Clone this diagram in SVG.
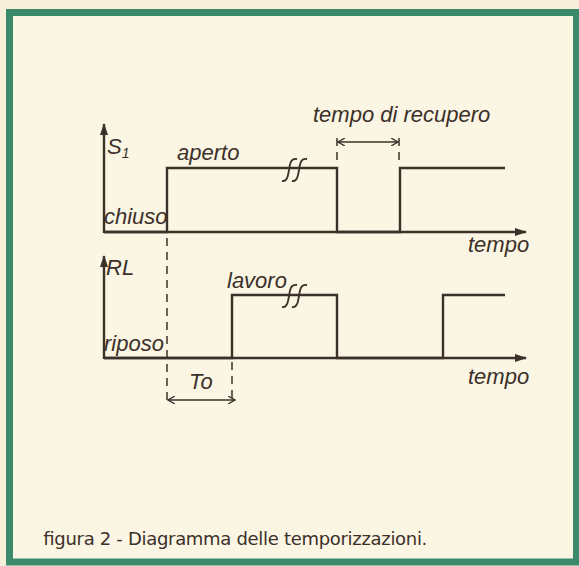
<svg xmlns="http://www.w3.org/2000/svg" width="579" height="566" viewBox="0 0 579 566">
<style>
.ln{fill:none;stroke:#3b302a;stroke-width:2.4;stroke-linejoin:miter}
.thin{fill:none;stroke:#3b302a;stroke-width:1.4}
.brk{fill:none;stroke:#3b302a;stroke-width:1.8}
.dash{fill:none;stroke:#3b302a;stroke-width:1.5;stroke-dasharray:8,6}
.lbl{font-family:"Liberation Sans",Arial,sans-serif;font-style:italic;font-size:22px;fill:#3b302a}
.cap{font-family:"DejaVu Sans","Liberation Sans",sans-serif;font-size:18px;fill:#3b302a}
</style>
<defs>
<marker id="ah" markerWidth="12" markerHeight="10" refX="11" refY="5" orient="auto" markerUnits="userSpaceOnUse">
<path d="M0,1 L12,5 L0,9 Z" fill="#3b302a"/>
</marker>
<marker id="sa" markerWidth="8" markerHeight="8" refX="7" refY="4" orient="auto-start-reverse" markerUnits="userSpaceOnUse">
<path d="M0,0 L7,4 L0,8" fill="none" stroke="#3b302a" stroke-width="1.3"/>
</marker>
</defs>
<rect x="0" y="0" width="579" height="566" fill="#f7efd9"/>
<rect x="9.5" y="12.5" width="567" height="549.5" fill="#fbf5e3" stroke="#3c8a6c" stroke-width="7"/>

<g id="axes">
<path class="ln" d="M104,233 V124" marker-end="url(#ah)"/>
<path class="ln" d="M104,232 H526" marker-end="url(#ah)"/>
<path class="ln" d="M104,359 V256" marker-end="url(#ah)"/>
<path class="ln" d="M104,358 H526" marker-end="url(#ah)"/>
</g>

<g id="signal-s1">
<path class="ln" d="M104,232 H167 V168 H337 V232 H400 V168 H505"/>
<path class="brk" d="M282,181 C287,182 288,176 289,170 C290,163 291,158 297,159 M292,181 C297,182 298,176 299,170 C300,163 301,158 307,159"/>
</g>

<g id="signal-rl">
<path class="ln" d="M104,358 H232 V295 H337 V358 H443 V295 H505"/>
<path class="brk" d="M282,307 C287,308 288,302 289,296 C290,289 291,284 297,285 M292,307 C297,308 298,302 299,296 C300,289 301,284 307,285"/>
</g>

<g id="connectors">
<path class="dash" d="M167,238 V402"/>
<path class="dash" d="M232,362 V402"/>
<path class="dash" d="M337,138 V166"/>
<path class="dash" d="M399,138 V166"/>
<path class="thin" d="M338,142 H398" marker-start="url(#sa)" marker-end="url(#sa)"/>
<path class="thin" d="M168,400 H235" marker-start="url(#sa)" marker-end="url(#sa)"/>
</g>

<g id="labels">
<text class="lbl" x="107" y="154">S<tspan font-size="14" dy="4">1</tspan></text>
<text class="lbl" x="177" y="160">aperto</text>
<text class="lbl" x="104" y="224">chiuso</text>
<text class="lbl" x="313" y="122">tempo di recupero</text>
<text class="lbl" x="468" y="252">tempo</text>
<text class="lbl" x="106" y="275">RL</text>
<text class="lbl" x="227" y="288">lavoro</text>
<text class="lbl" x="104" y="351">riposo</text>
<text class="lbl" x="189" y="389">To</text>
<text class="lbl" x="468" y="384">tempo</text>
</g>

<g id="caption">
<text class="cap" x="43" y="545" textLength="384">figura 2 - Diagramma delle temporizzazioni.</text>
</g>
</svg>
